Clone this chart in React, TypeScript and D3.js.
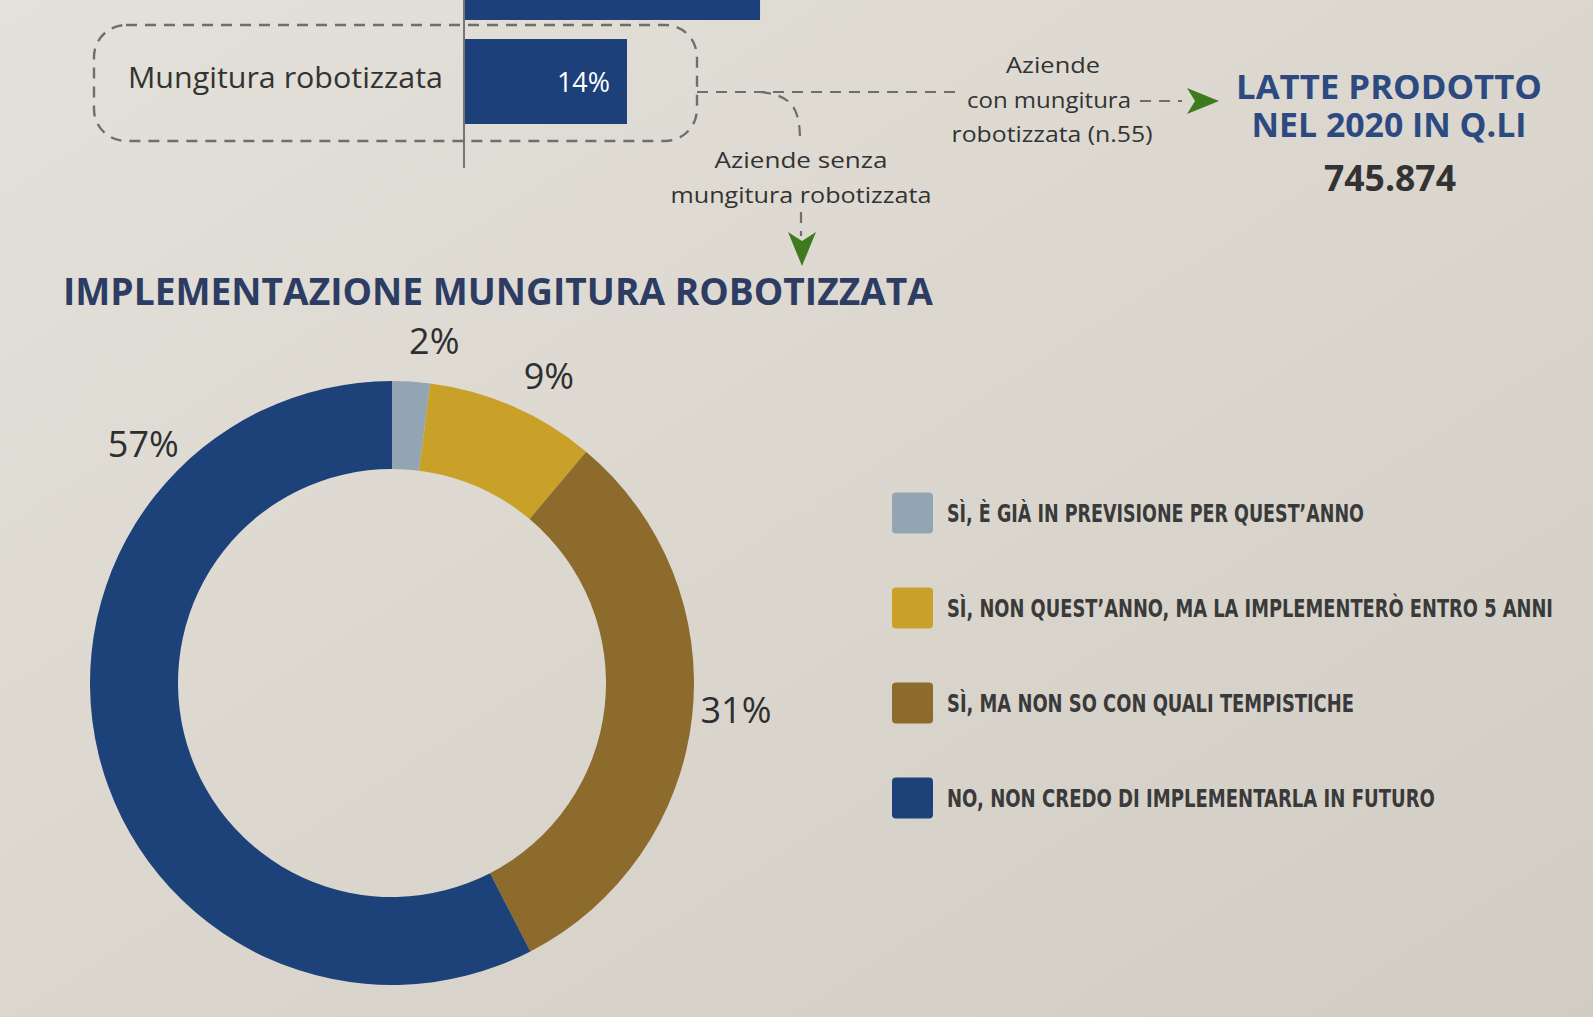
import React, { useLayoutEffect, useRef } from 'react';
import * as d3 from 'd3';

// ---------- DATA ----------
const barCategories = ['', 'Mungitura robotizzata'];
const barValues = [25.5, 14];
const barValueLabels = ['', '14%'];

const donutCategories = [
  'SÌ, È GIÀ IN PREVISIONE PER QUEST’ANNO',
  'SÌ, NON QUEST’ANNO, MA LA IMPLEMENTERÒ ENTRO 5 ANNI',
  'SÌ, MA NON SO CON QUALI TEMPISTICHE',
  'NO, NON CREDO DI IMPLEMENTARLA IN FUTURO',
];
const donutValues = [2, 9, 31, 57];
const donutLabels = ['2%', '9%', '31%', '57%'];
const donutColors = ['#93A5B3', '#C9A128', '#8D6B2D', '#1D4179'];

const flowTextWith = ['Aziende', 'con mungitura', 'robotizzata (n.55)'];
const flowTextWithout = ['Aziende senza', 'mungitura robotizzata'];
const highlightTitle = ['LATTE PRODOTTO', 'NEL 2020 IN Q.LI'];
const highlightValue = '745.874';
const chartTitle = 'IMPLEMENTAZIONE MUNGITURA ROBOTIZZATA';

// ---------- LAYOUT ----------
const W = 1593;
const H = 1017;
const SANS = "'Open Sans', 'Noto Sans', sans-serif";
const COND = "'Liberation Sans Narrow', 'DejaVu Sans Condensed', 'Roboto', sans-serif";
const DASH = '11 8';
const DASH_COLOR = '#6E6E6C';
const GREEN = '#3E7A1E';

const legendWidths = [417, 606, 407, 488];
const labelShiftDeg = [3.4, 3.4, -2.0, 57.5];

function arrowRight(tx: number, ty: number) {
  return `M${tx},${ty} L${tx - 32},${ty - 13} L${tx - 24},${ty} L${tx - 32},${ty + 13} Z`;
}
function arrowDown(tx: number, ty: number) {
  return `M${tx},${ty} L${tx - 14},${ty - 34} L${tx},${ty - 25} L${tx + 14},${ty - 34} Z`;
}

export default function App() {
  const svgRef = useRef<SVGSVGElement>(null);

  // bar part
  const x = d3.scaleLinear().domain([0, 100]).range([465, 465 + 1157]);
  const y = d3.scaleBand<string>().domain(barCategories).range([-65, 124]).paddingInner(19 / 104);

  // donut
  const cx = 392;
  const cy = 683;
  const pie = d3.pie<number>().sort(null).value((d) => d);
  const arcs = pie(donutValues);
  const arc = d3.arc<d3.PieArcDatum<number>>().innerRadius(214).outerRadius(302);
  const labelR = 345;

  // legend
  const ly = d3.scaleBand<string>().domain(donutCategories).range([465.5, 845.5]);

  // fit condensed legend texts to the measured widths with a horizontal scale
  useLayoutEffect(() => {
    if (!svgRef.current) return;
    d3.select(svgRef.current)
      .selectAll<SVGTextElement, unknown>('text.fit')
      .each(function () {
        const target = +(this.getAttribute('data-w') || 0);
        const natural = this.getComputedTextLength();
        if (natural > 0 && target > 0) {
          const tx = +(this.getAttribute('data-x') || 0);
          const ty = +(this.getAttribute('data-y') || 0);
          this.setAttribute('transform', `translate(${tx},${ty}) scale(${target / natural},1)`);
        }
      });
  }, []);

  return (
    <svg
      ref={svgRef}
      width={W}
      height={H}
      style={{ position: 'fixed', left: 0, top: 0, display: 'block' }}
    >
      <defs>
        <linearGradient id="bg" x1="0" y1="0" x2="1" y2="1">
          <stop offset="0" stopColor="#E4E1DA" />
          <stop offset="0.5" stopColor="#DBD7CF" />
          <stop offset="1" stopColor="#D1CDC4" />
        </linearGradient>
      </defs>
      <rect x={0} y={0} width={W} height={H} fill="url(#bg)" />

      {/* bars */}
      {barCategories.map((c, i) => (
        <rect
          key={'b' + i}
          x={x(0)}
          y={y(c)}
          width={x(barValues[i]) - x(0)}
          height={y.bandwidth()}
          fill="#1D3F7A"
        />
      ))}
      {barCategories.map((c, i) =>
        barValueLabels[i] ? (
          <text
            key={'bl' + i}
            x={x(barValues[i]) - 17}
            y={(y(c) as number) + y.bandwidth() / 2 + 10}
            textAnchor="end"
            fontFamily={SANS}
            fontSize={27}
            fill="#FFFFFF"
            textLength={53}
            lengthAdjust="spacingAndGlyphs"
          >
            {barValueLabels[i]}
          </text>
        ) : null
      )}
      <line x1={464} x2={464} y1={0} y2={168} stroke="#5A5A58" strokeWidth={1.6} />
      <text
        x={128}
        y={88}
        fontFamily={SANS}
        fontSize={29}
        fill="#333333"
        textLength={315}
        lengthAdjust="spacingAndGlyphs"
      >
        {barCategories[1]}
      </text>

      {/* dashed highlight box */}
      <rect
        x={94}
        y={25}
        width={603}
        height={116}
        rx={32}
        ry={32}
        fill="none"
        stroke={DASH_COLOR}
        strokeWidth={2.4}
        strokeDasharray={DASH}
      />

      {/* flow lines */}
      <path d="M697,92 H958" fill="none" stroke={DASH_COLOR} strokeWidth={2.2} strokeDasharray={DASH} />
      <path d="M760,92 C790,95 800,106 800,140" fill="none" stroke={DASH_COLOR} strokeWidth={2.2} strokeDasharray={DASH} />
      <path d="M1140,101 H1182" fill="none" stroke={DASH_COLOR} strokeWidth={2.2} strokeDasharray={DASH} />
      <path d="M801,212 V236" fill="none" stroke={DASH_COLOR} strokeWidth={2.2} strokeDasharray={DASH} />
      <path d={arrowRight(1219, 101)} fill={GREEN} />
      <path d={arrowDown(802, 266)} fill={GREEN} />

      {/* flow texts */}
      {flowTextWith.map((t, i) => (
        <text
          key={'fw' + i}
          x={[1053, 1049, 1052][i]}
          y={[73, 108, 142][i]}
          textAnchor="middle"
          fontFamily={SANS}
          fontSize={22}
          fill="#333333"
          textLength={[94, 164, 201][i]}
          lengthAdjust="spacingAndGlyphs"
        >
          {t}
        </text>
      ))}
      {flowTextWithout.map((t, i) => (
        <text
          key={'fo' + i}
          x={801}
          y={[168, 203][i]}
          textAnchor="middle"
          fontFamily={SANS}
          fontSize={22}
          fill="#333333"
          textLength={[173, 261][i]}
          lengthAdjust="spacingAndGlyphs"
        >
          {t}
        </text>
      ))}

      {/* highlight */}
      {highlightTitle.map((t, i) => (
        <text
          key={'ht' + i}
          x={1389}
          y={[99, 137][i]}
          textAnchor="middle"
          fontFamily={SANS}
          fontWeight={700}
          fontSize={34}
          fill="#2C4A80"
          textLength={[306, 275][i]}
          lengthAdjust="spacingAndGlyphs"
        >
          {t}
        </text>
      ))}
      <text
        x={1390}
        y={191}
        textAnchor="middle"
        fontFamily={SANS}
        fontWeight={700}
        fontSize={35}
        fill="#333333"
        textLength={132}
        lengthAdjust="spacingAndGlyphs"
      >
        {highlightValue}
      </text>

      {/* title */}
      <text
        x={63}
        y={305}
        fontFamily={SANS}
        fontWeight={700}
        fontSize={38}
        fill="#2D3C63"
        textLength={870}
        lengthAdjust="spacingAndGlyphs"
      >
        {chartTitle}
      </text>

      {/* donut */}
      <g transform={`translate(${cx},${cy})`}>
        {arcs.map((a, i) => (
          <path key={'a' + i} d={arc(a) as string} fill={donutColors[i]} />
        ))}
        {arcs.map((a, i) => {
          const ang = (a.startAngle + a.endAngle) / 2 + (labelShiftDeg[i] * Math.PI) / 180;
          return (
            <text
              key={'al' + i}
              x={labelR * Math.sin(ang)}
              y={-labelR * Math.cos(ang)}
              textAnchor="middle"
              dominantBaseline="central"
              fontFamily={SANS}
              fontSize={36}
              fill="#2F2F2F"
            >
              {donutLabels[i]}
            </text>
          );
        })}
      </g>

      {/* legend */}
      {donutCategories.map((c, i) => {
        const yc = (ly(c) as number) + ly.bandwidth() / 2;
        return (
          <g key={'lg' + i}>
            <rect x={892} y={yc - 20.5} width={41} height={41} rx={4} fill={donutColors[i]} />
            <text
              className="fit"
              data-w={legendWidths[i]}
              data-x={947}
              data-y={yc + 9}
              transform={`translate(947,${yc + 9}) scale(0.8,1)`}
              fontFamily={COND}
              fontWeight={700}
              fontSize={25}
              fill="#3A3A3A"
            >
              {c}
            </text>
          </g>
        );
      })}
    </svg>
  );
}
